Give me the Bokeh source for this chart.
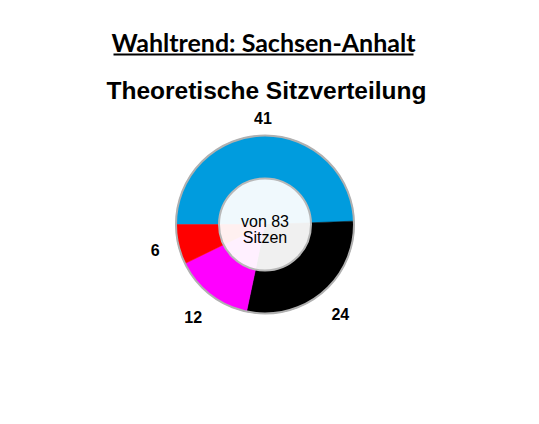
import math
from bokeh.plotting import figure
from bokeh.models import Range1d, ColumnDataSource
from bokeh.core.properties import value
from bokeh.embed import file_html
from bokeh.resources import INLINE

# ---- data ----
title_text = "Wahltrend: Sachsen-Anhalt"
subtitle_text = "Theoretische Sitzverteilung"
parties = ["AfD", "CDU", "Linke", "SPD"]
seats = [41, 24, 12, 6]
colors = ["#009CDE", "#000000", "#FF00FF", "#FF0000"]
total_seats = sum(seats)
center_lines = [f"von {total_seats}", "Sitzen"]

W, H = 523, 408

def px(x):  # page x -> data x
    return x

def py(y):  # page y -> data y
    return H - y

p = figure(width=W, height=H, output_backend="svg", toolbar_location=None,
           x_range=Range1d(0, W), y_range=Range1d(0, H), min_border=0,
           background_fill_color="white", border_fill_color="white")
p.axis.visible = False
p.grid.visible = False
p.outline_line_color = None

cx, cy = px(264.5), py(224)
R_out, R_in = 89, 46

starts, ends, mids = [], [], []
cum = 0
for s in seats:
    a0 = math.pi - cum / total_seats * 2 * math.pi
    cum += s
    a1 = math.pi - cum / total_seats * 2 * math.pi
    starts.append(a0); ends.append(a1); mids.append((a0 + a1) / 2)

src = ColumnDataSource(dict(start=starts, end=ends, color=colors, party=parties, seats=seats))
p.wedge(x=cx, y=cy, radius=R_out, start_angle="start", end_angle="end",
        direction="clock", fill_color="color", line_color="color", line_width=0.5, source=src)

# outer ring outline
p.circle(x=[cx], y=[cy], radius=R_out, fill_color=None, line_color="#B0B0B0", line_width=2)
# inner hole (semi transparent)
p.circle(x=[cx], y=[cy], radius=R_in, fill_color="white", fill_alpha=0.94,
         line_color="#B8B8B8", line_width=2)

# seat labels
lx, ly, lt = [], [], []
for m, s in zip(mids, seats):
    r = 104 + 13 * abs(math.sin(2 * m)) ** 0.5
    lx.append(cx + r * math.cos(m))
    ly.append(cy + r * math.sin(m))
    lt.append(str(s))
p.text(x=lx, y=ly, text=lt, text_align="center", text_baseline="middle",
       text_font=value("Liberation Sans"), text_font_style="bold",
       text_font_size="16px", text_color="black")

# center text
p.text(x=[cx, cx], y=[py(220.5), py(237)], text=center_lines, text_align="center",
       text_baseline="middle", text_font=value("Liberation Sans"),
       text_font_size="16px", text_color="black")

# title (underlined)
p.text(x=[px(263)], y=[py(41)], text=[title_text], text_align="center",
       text_baseline="middle", text_font=value("Lato"), text_font_style="bold",
       text_font_size="25px", text_color="black")
p.segment(x0=[px(113)], y0=[py(54)], x1=[px(413)], y1=[py(54)],
          line_color="black", line_width=2)

# subtitle
p.text(x=[px(266)], y=[py(90)], text=[subtitle_text], text_align="center",
       text_baseline="middle", text_font=value("Liberation Sans"),
       text_font_style="bold", text_font_size="24.5px", text_color="black")

open("out.html", "w").write(file_html(p, INLINE))
